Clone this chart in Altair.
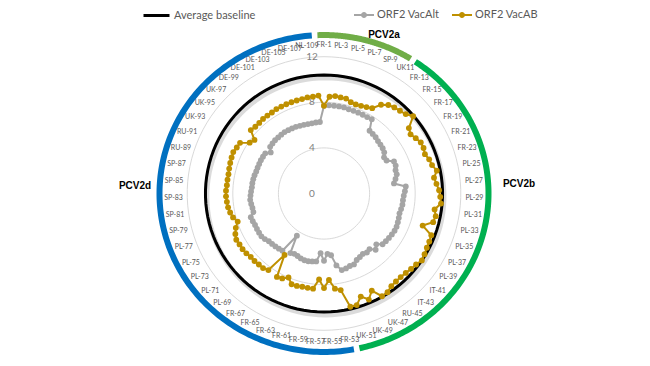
import altair as alt
import pandas as pd
import numpy as np

# ---------------- data ----------------
N_CAT = 110
LABELS_ODD = ["FR-1", "PL-3", "PL-5", "PL-7", "SP-9", "UK11", "FR-13", "FR-15", "FR-17", "FR-19",
              "FR-21", "FR-23", "PL-25", "PL-27", "PL-29", "PL-31", "PL-33", "PL-35", "PL-37", "PL-39",
              "IT-41", "IT-43", "RU-45", "UK-47", "UK-49", "UK-51", "FR-53", "FR-55", "FR-57", "FR-59",
              "FR-61", "FR-63", "FR-65", "FR-67", "PL-69", "PL-71", "PL-73", "PL-75", "PL-77", "SP-79",
              "SP-81", "SP-83", "SP-85", "SP-87", "RU-89", "RU-91", "UK-93", "UK-95", "UK-97", "DE-99",
              "DE-101", "DE-103", "DE-105", "DE-107", "NL-109"]

SERIES_NAMES = ["ORF2 VacAlt", "ORF2 VacAB"]
SERIES_COLORS = ["#A5A5A5", "#BF9000"]

VAC_ALT = [7.7, 7.75, 7.75, 7.75, 7.75, 7.7, 7.7, 7.7, 7.7, 7.7,
           7.75, 6.8, 6.75, 6.7, 6.6, 6.55, 6.5, 6.4, 6.15, 6.2,
           6.75, 6.75, 6.6, 6.6, 6.4, 6.2, 7.2, 7.1, 7.0, 6.95,
           6.95, 6.9, 6.85, 6.9, 6.95, 7.0, 7.0, 6.95, 6.9, 6.85,
           6.8, 6.4, 6.7, 6.3, 6.4, 6.3, 6.4, 6.5, 6.75, 6.75,
           6.85, 6.9, 6.4, 5.45, 5.3, 5.9, 5.25, 6.0, 6.05, 6.1,
           6.1, 6.05, 5.95, 5.9, 6.0, 4.4, 6.2, 6.25, 6.3, 6.35,
           6.4, 6.55, 6.65, 6.65, 6.65, 6.65, 6.7, 6.75, 6.4, 6.4,
           6.45, 6.5, 6.45, 6.4, 6.35, 6.35, 6.33, 6.3, 6.25, 6.25,
           6.25, 6.26, 6.25, 6.24, 5.9, 6.25, 6.3, 6.35, 6.35, 6.38,
           6.4, 6.38, 6.36, 6.35, 6.3, 6.28, 6.25, 6.25, 6.27, 6.28]

VAC_AB = [7.7, 8.5, 8.6, 8.55, 8.55, 8.35, 8.3, 8.35, 8.45, 8.6,
          9.25, 9.6, 9.75, 9.85, 10.0, 10.35, 9.4, 9.2, 9.4, 9.6,
          9.6, 9.5, 9.7, 9.8, 10.1, 9.75, 9.9, 10.1, 10.2, 10.3,
          9.8, 10.0, 9.9, 9.1, 10.1, 10.15, 10.2, 10.3, 10.4, 10.2,
          10.1, 10.0, 9.95, 9.97, 10.05, 10.3, 10.35, 9.5, 10.1, 9.6,
          10.2, 10.2, 8.6, 8.4, 7.6, 8.3, 7.55, 8.4, 8.4, 8.4,
          8.45, 8.45, 8.0, 8.3, 8.4, 6.4, 8.3, 8.45, 8.45, 8.5,
          8.5, 8.6, 8.65, 8.65, 8.7, 8.55, 8.3, 7.96, 8.25, 8.4,
          8.5, 8.55, 8.6, 8.6, 8.55, 8.55, 8.55, 8.6, 8.65, 8.7,
          8.75, 8.65, 8.6, 7.9, 7.7, 8.5, 8.4, 8.4, 8.45, 8.45,
          8.45, 8.5, 8.5, 8.5, 8.5, 8.5, 8.5, 8.55, 8.55, 8.6]

BASELINE_NAME = "Average baseline"
BASELINE = 10.4
GRID_RINGS = [4, 8, 12]
TICK_LABELS = [0, 4, 8, 12]

GROUPS = ["PCV2a", "PCV2b", "PCV2d"]
GROUP_START = [-1, 10, 51.5]      # in category units
GROUP_END = [10, 51.5, 109]
GROUP_COLORS = ["#70AD47", "#00B050", "#0070C0"]

# ---------------- tables ----------------
idx = list(range(N_CAT))
cat_names = [LABELS_ODD[i // 2] if i % 2 == 0 else "" for i in idx]

series_df = pd.concat([
    pd.DataFrame({"idx": idx, "series": SERIES_NAMES[0], "v": VAC_ALT}),
    pd.DataFrame({"idx": idx, "series": SERIES_NAMES[1], "v": VAC_AB}),
])
base_df = pd.DataFrame({"idx": idx, "series": BASELINE_NAME, "v": BASELINE})
grid_df = pd.DataFrame([{"idx": i, "ring": r, "v": r} for r in GRID_RINGS for i in idx])
lab_df = pd.DataFrame({"idx": idx, "name": cat_names})
lab_df = lab_df[lab_df["name"] != ""]
tick_df = pd.DataFrame({"v": TICK_LABELS, "t": [str(t) for t in TICK_LABELS]})

trim = 0.3
arc_rows = []
for g, s, e in zip(GROUPS, GROUP_START, GROUP_END):
    for t in np.linspace(s + trim, e - trim, 160):
        arc_rows.append({"group": g, "idx": float(t)})
arc_df = pd.DataFrame(arc_rows)

# ---------------- geometry ----------------
K = 11.4  # px per unit
W, H = 634, 350
CX, CY = 316, 185.5
XS = alt.Scale(domain=[-CX / K, (W - CX) / K], nice=False, zero=False)
YS = alt.Scale(domain=[-(H - CY) / K, CY / K], nice=False, zero=False)
THETA = f"2 * PI * datum.idx / {N_CAT}"


def polar(ch, r="datum.v", ax=1.0, ay=1.0, ox=0.0, oy=0.0):
    return ch.transform_calculate(theta=THETA).transform_calculate(
        px=f"{ax} * {r} * sin(datum.theta) + {ox}",
        py=f"{ay} * {r} * cos(datum.theta) + {oy}",
    )


X = alt.X("px:Q", scale=XS, axis=None)
Y = alt.Y("py:Q", scale=YS, axis=None)
FONT = "Lato"
GREY_TXT = "#595959"

grid = polar(alt.Chart(grid_df).mark_line(interpolate="linear-closed", color="#D9D9D9", strokeWidth=1)).encode(
    x=X, y=Y, detail="ring:N", order="idx:Q")

ticks = alt.Chart(tick_df).mark_text(font=FONT, fontSize=10, color="#7F7F7F", dx=-12, baseline="middle").encode(
    x=alt.X("zero:Q", scale=XS, axis=None), y=alt.Y("v:Q", scale=YS, axis=None), text="t:N"
).transform_calculate(zero="0")

shadow = polar(alt.Chart(base_df).mark_line(interpolate="linear-closed", color="#BDBDBD", strokeWidth=5, opacity=0.55),
               ox=0.12, oy=-0.25).encode(x=X, y=Y, order="idx:Q")

baseline = polar(alt.Chart(base_df).mark_line(interpolate="linear-closed", strokeWidth=3)).encode(
    x=X, y=Y, order="idx:Q",
    color=alt.Color("series:N", scale=alt.Scale(domain=[BASELINE_NAME], range=["#000000"]),
                    legend=alt.Legend(title=None, orient="none", legendX=134, legendY=-7, padding=0,
                                      symbolType="stroke", symbolStrokeWidth=3, symbolSize=676,
                                      labelFont=FONT, labelFontSize=11, labelColor=GREY_TXT, labelOffset=3)))

lines = polar(alt.Chart(series_df).mark_line(interpolate="linear-closed", strokeWidth=2)).encode(
    x=X, y=Y, order="idx:Q", detail="series:N",
    color=alt.Color("series:N", scale=alt.Scale(domain=SERIES_NAMES, range=SERIES_COLORS), legend=None))

SYM = "M-1,-0.1H1V0.1H-1Z M0.3,0A0.3,0.3 0 1,1 -0.3,0A0.3,0.3 0 1,1 0.3,0Z"
points = polar(alt.Chart(series_df).mark_circle(size=34, opacity=1)).encode(
    x=X, y=Y,
    color=alt.Color("series:N", scale=alt.Scale(domain=SERIES_NAMES, range=SERIES_COLORS),
                    legend=alt.Legend(title=None, orient="none", legendX=345, legendY=-4, padding=0,
                                      direction="horizontal", symbolType=SYM, symbolSize=400,
                                      columnPadding=11, labelOffset=2,
                                      labelFont=FONT, labelFontSize=11, labelColor=GREY_TXT)))

labels = polar(alt.Chart(lab_df).mark_text(font=FONT, fontSize=7, color=GREY_TXT, baseline="middle", align="center"),
               r="1", ax=13.2, ay=13.05).encode(x=X, y=Y, text="name:N")

arcs = polar(alt.Chart(arc_df).mark_line(strokeWidth=6, strokeCap="butt"), r="1", ax=14.43, ay=13.9).encode(
    x=X, y=Y, order="idx:Q", detail="group:N",
    stroke=alt.Stroke("group:N", scale=alt.Scale(domain=GROUPS, range=GROUP_COLORS), legend=None))

gtxt = []
for g, (gx, gy) in zip(GROUPS, [(376, 27), (511, 176), (127, 178)]):
    gtxt.append(alt.Chart(pd.DataFrame({"g": [g]})).mark_text(
        font="Liberation Sans", fontWeight="bold", fontSize=10, color="#000000").encode(
        x=alt.value(gx), y=alt.value(gy), text="g:N"))

chart = alt.layer(grid, ticks, shadow, baseline, lines, points, labels, arcs, *gtxt).properties(
    width=W, height=H, autosize=alt.AutoSizeParams(type="none"), padding=0
).resolve_scale(color="independent").configure_view(stroke=None)

chart.save("out.html", embed_options={"renderer": "svg", "actions": False})
